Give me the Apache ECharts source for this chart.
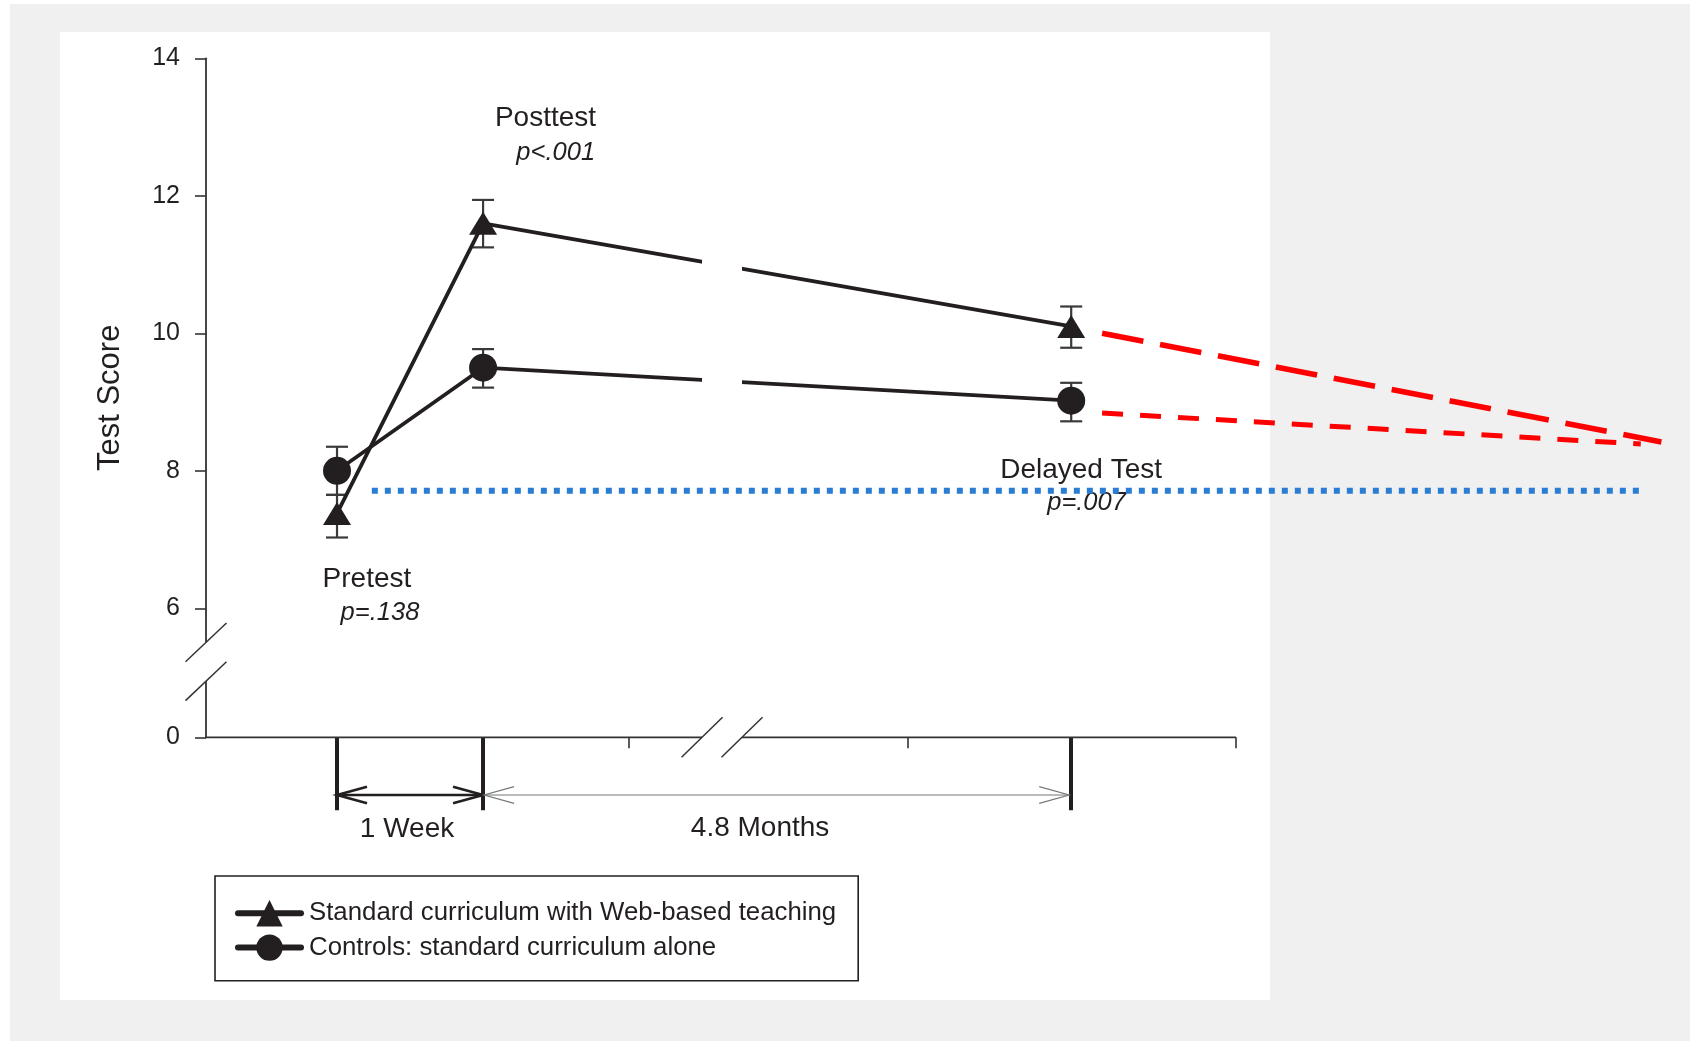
<!DOCTYPE html>
<html><head><meta charset="utf-8">
<script src="https://cdn.jsdelivr.net/npm/echarts@6/dist/echarts.min.js"></script>
<style>
html,body{margin:0;padding:0;background:#fff;}
#frame{position:absolute;left:10px;top:4px;width:1680px;height:1037px;background:#f0f0f0;}
#panel{position:absolute;left:60px;top:32px;width:1210px;height:968px;background:#fff;}
#chart{position:absolute;left:0;top:0;width:1690px;height:1041px;}
</style></head>
<body>
<div id="frame"></div><div id="panel"></div>
<div id="chart"></div>
<script>
// ---------- data ----------
const categories = ['Pretest', 'Posttest', 'Delayed Test'];
const pValues = ['p=.138', 'p<.001', 'p=.007'];
const timePoints = [12.72, 26.9, 84.0];          // x position of each test on the (broken) time axis
const webMean = [7.38, 11.6, 10.1];
const webLow  = [7.03, 11.25, 9.79];
const webHigh = [7.65, 11.94, 10.39];
const ctrlMean = [8.0, 9.5, 9.02];
const ctrlLow  = [7.65, 9.21, 8.72];
const ctrlHigh = [8.35, 9.77, 9.28];
const webTrendX = [87.0, 141.3];
const webTrendY = [10.0, 8.42];
const ctrlTrendX = [87.0, 139.3];
const ctrlTrendY = [8.84, 8.39];
const thresholdX = [16.1, 139.3];
const thresholdY = 7.71;
const yMin = 4.124;                                 // bottom of broken axis, labelled "0"
const yTickValues = [yMin, 6, 8, 10, 12, 14];
const yTickLabels = ['0', '6', '8', '10', '12', '14'];
const xAxisEnd = 100;                               // drawn x axis ends here
const xMinorTicks = [41.0, 68.1, 100];
const xBreak = [48.16, 52.04];
const yBreak = [5.504, 4.94];
const seriesNames = ['Standard curriculum with Web-based teaching', 'Controls: standard curriculum alone'];
const intervalLabels = ['1 Week', '4.8 Months'];

// ---------- chart ----------
const FONT = "'Liberation Sans', Arial, Helvetica, sans-serif";
const INK = '#231f20';
const X_MAX = 142;
const chart = echarts.init(document.getElementById('chart'), null, {renderer: 'canvas'});

const errData = timePoints.map((x, i) => [x, webLow[i], webHigh[i]])
  .concat(timePoints.map((x, i) => [x, ctrlLow[i], ctrlHigh[i]]));

const option = {
  animation: false,
  backgroundColor: 'transparent',
  textStyle: {fontFamily: FONT},
  grid: {left: 206, top: 58.3, width: 10.3 * X_MAX, height: 679, outerBoundsMode: 'none', containLabel: false},
  xAxis: [{
    type: 'value', min: 0, max: X_MAX,
    axisLine: {show: false, onZero: false},
    axisTick: {show: true, customValues: xMinorTicks, length: 11, lineStyle: {color: '#333', width: 1.6}},
    axisLabel: {show: false},
    splitLine: {show: false}
  }, {
    type: 'value', min: 0, max: X_MAX, position: 'bottom',
    axisLine: {show: false, onZero: false},
    axisTick: {show: true, customValues: timePoints, length: 73, lineStyle: {color: INK, width: 4}},
    axisLabel: {show: false},
    splitLine: {show: false}
  }],
  yAxis: {
    type: 'value', min: yMin, max: 14,
    name: 'Test Score', nameLocation: 'middle', nameGap: 80,
    nameTextStyle: {fontSize: 31, color: INK, fontFamily: FONT},
    axisLine: {show: true, onZero: false, lineStyle: {color: '#333', width: 1.8}},
    axisTick: {show: true, customValues: yTickValues, length: 11, lineStyle: {color: '#333', width: 1.6}},
    axisLabel: {
      customValues: yTickValues, margin: 26, fontSize: 25, color: INK, fontFamily: FONT,
      formatter: v => yTickLabels[yTickValues.findIndex(t => Math.abs(t - v) < 1e-6)]
    },
    splitLine: {show: false}
  },
  legend: {
    data: seriesNames, orient: 'vertical', left: 215, top: 876,
    padding: [24, 22, 20, 20], borderColor: INK, borderWidth: 1.6,
    itemWidth: 63, itemHeight: 33, itemGap: 8,
    lineStyle: {width: 6, cap: 'round'},
    textStyle: {fontSize: 25.8, color: INK, fontFamily: FONT, padding: [0, 0, 0, 3]}
  },
  series: [
    {
      name: seriesNames[0], type: 'line', z: 3,
      data: timePoints.map((x, i) => [x, webMean[i]]),
      symbol: 'triangle', symbolSize: [28, 23], showSymbol: true,
      itemStyle: {color: INK}, lineStyle: {color: INK, width: 3.8}
    },
    {
      name: seriesNames[1], type: 'line', z: 3,
      data: timePoints.map((x, i) => [x, ctrlMean[i]]),
      symbol: 'circle', symbolSize: 28,
      itemStyle: {color: INK}, lineStyle: {color: INK, width: 3.8}
    },
    {
      name: 'error', type: 'custom', z: 2,
      data: errData, encode: {x: 0, y: [1, 2]},
      renderItem: function (params, api) {
        const x = api.value(0);
        const lo = api.coord([x, api.value(1)]);
        const hi = api.coord([x, api.value(2)]);
        const w = 11;
        const st = {stroke: '#3a3a3a', lineWidth: 2.2};
        return {type: 'group', children: [
          {type: 'line', shape: {x1: lo[0], y1: lo[1], x2: hi[0], y2: hi[1]}, style: st},
          {type: 'line', shape: {x1: lo[0] - w, y1: lo[1], x2: lo[0] + w, y2: lo[1]}, style: st},
          {type: 'line', shape: {x1: hi[0] - w, y1: hi[1], x2: hi[0] + w, y2: hi[1]}, style: st}
        ]};
      }
    },
    {
      name: 'webTrend', type: 'line', z: 6, clip: false, symbol: 'none',
      data: webTrendX.map((x, i) => [x, webTrendY[i]]),
      lineStyle: {color: '#ff0000', width: 5.5, type: [42, 17]}
    },
    {
      name: 'ctrlTrend', type: 'line', z: 6, clip: false, symbol: 'none',
      data: ctrlTrendX.map((x, i) => [x, ctrlTrendY[i]]),
      lineStyle: {color: '#ff0000', width: 5, type: [21, 17]}
    },
    {
      name: 'threshold', type: 'line', z: 10, clip: false, symbol: 'none',
      data: thresholdX.map(x => [x, thresholdY]),
      lineStyle: {color: '#2b7cd3', width: 6, type: [6, 7]}
    }
  ]
};
chart.setOption(option);

// ---------- annotations anchored to the axes ----------
const P = (x, y) => chart.convertToPixel({xAxisIndex: 0, yAxisIndex: 0}, [x, y]);
const origin = P(0, yMin);
const axisX = origin[0], axisY = origin[1];
const topY = P(0, 14)[1];
const tp = timePoints.map(x => P(x, yMin)[0]);
const g = [];
// visible x axis line (ends at xAxisEnd)
g.push({type: 'line', z: 3, shape: {x1: axisX - 1, y1: axisY, x2: P(xAxisEnd, yMin)[0], y2: axisY}, style: {stroke: '#333', lineWidth: 1.8}});
// gap in the plotted lines at the x-axis break
const bx0 = P(xBreak[0], yMin)[0], bx1 = P(xBreak[1], yMin)[0];
g.push({type: 'rect', z: 4, shape: {x: bx0, y: topY, width: bx1 - bx0, height: axisY - topY + 3}, style: {fill: '#fff'}});
[bx0, bx1].forEach(bx => g.push({type: 'line', z: 5,
  shape: {x1: bx - 20.5, y1: axisY + 20, x2: bx + 20.5, y2: axisY - 20}, style: {stroke: '#333', lineWidth: 1.5}}));
// y-axis break
const by0 = P(0, yBreak[0])[1], by1 = P(0, yBreak[1])[1];
g.push({type: 'rect', z: 4, shape: {x: axisX - 5, y: by0, width: 10, height: by1 - by0}, style: {fill: '#fff'}});
[by0, by1].forEach(by => g.push({type: 'line', z: 5,
  shape: {x1: axisX - 20.5, y1: by + 19.4, x2: axisX + 20.5, y2: by - 19.4}, style: {stroke: '#333', lineWidth: 1.5}}));
// interval arrows
const arrowY = axisY + 57.7;
function arrow(xa, xb, width, color) {
  const st = {stroke: color, lineWidth: width, fill: null};
  g.push({type: 'line', z: 5, shape: {x1: xa, y1: arrowY, x2: xb, y2: arrowY}, style: st});
  g.push({type: 'polyline', z: 5, shape: {points: [[xa + 30, arrowY - 8.3], [xa, arrowY], [xa + 30, arrowY + 8.3]]}, style: st});
  g.push({type: 'polyline', z: 5, shape: {points: [[xb - 30, arrowY - 8.3], [xb, arrowY], [xb - 30, arrowY + 8.3]]}, style: st});
}
arrow(tp[0], tp[1], 2.6, INK);
arrow(tp[1] + 1, tp[2] - 2, 1.2, '#777');
function txt(text, x, y, align, size, italic) {
  g.push({type: 'text', z: 1, x: x, y: y, style: {text: text, fontSize: size, fontFamily: FONT,
    fontStyle: italic ? 'italic' : 'normal', fill: INK, align: align, verticalAlign: 'middle'}});
}
txt(intervalLabels[0], (tp[0] + tp[1]) / 2 - 3, axisY + 91.5, 'center', 28, false);
txt(intervalLabels[1], tp[1] + 277, axisY + 90.5, 'center', 28, false);
// test labels and p-values
txt(categories[0], tp[0] - 14.4, P(0, 6.42)[1], 'left', 28, false);
txt(pValues[0], tp[0] + 3.6, P(0, 5.93)[1], 'left', 25.5, true);
txt(categories[1], tp[1] + 113, P(0, 13.13)[1], 'right', 28, false);
txt(pValues[1], tp[1] + 112, P(0, 12.63)[1], 'right', 25.5, true);
txt(categories[2], tp[2] - 71, P(0, 8.01)[1], 'left', 28, false);
txt(pValues[2], tp[2] - 24, P(0, 7.54)[1], 'left', 25.5, true);
chart.setOption({graphic: {elements: g}});
</script>
</body></html>
